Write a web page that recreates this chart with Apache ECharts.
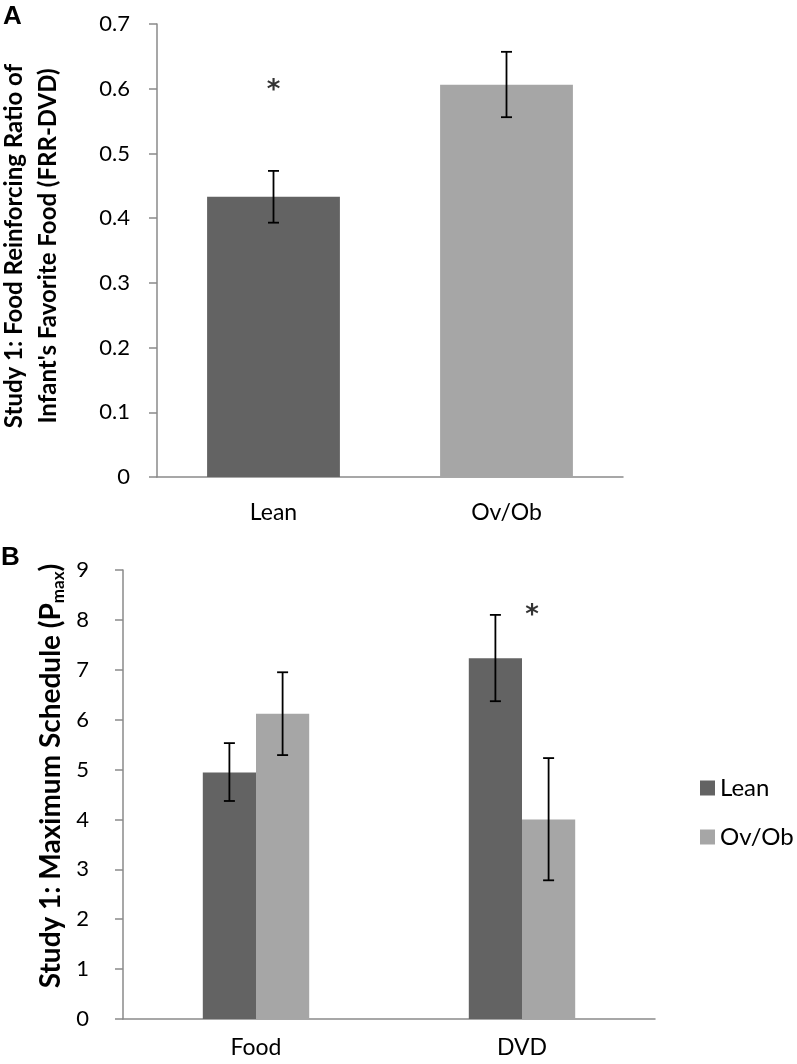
<!DOCTYPE html>
<html><head><meta charset="utf-8">
<script src="https://cdn.jsdelivr.net/npm/echarts@6/dist/echarts.min.js"></script>
<style>html,body{margin:0;padding:0;background:#fff}#c{width:797px;height:1064px}</style>
</head><body><div id="c"></div>
<script>
// Panel A data
const catsA = ['Lean', 'Ov/Ob'];
const meanA = [0.433, 0.606];
const errLoA = [0.393, 0.556];
const errHiA = [0.473, 0.657];
const starA = [['Lean', 0.606]];
const ticksA = [0, 0.1, 0.2, 0.3, 0.4, 0.5, 0.6, 0.7];

// Panel B data
const catsB = ['Food', 'DVD'];
const seriesNames = ['Lean', 'Ov/Ob'];
const leanB = [4.94, 7.23];
const leanLoB = [4.37, 6.37];
const leanHiB = [5.53, 8.10];
const obB = [6.12, 4.00];
const obLoB = [5.29, 2.78];
const obHiB = [6.95, 5.23];
const starB = [['DVD', 8.2]];

const DARK = '#636363', LIGHT = '#a6a6a6', AX = '#8a8a8a';
const FONT = 'Lato';

function errItem(offsetFrac) {
  return function (params, api) {
    const idx = api.value(0);
    const band = api.size([1, 0])[0];
    const lo = api.coord([idx, api.value(1)]);
    const hi = api.coord([idx, api.value(2)]);
    const x = lo[0] + offsetFrac * band;
    const cap = 5.5;
    const st = { stroke: '#000', lineWidth: 1.8 };
    return { type: 'group', children: [
      { type: 'line', shape: { x1: x, y1: lo[1], x2: x, y2: hi[1] }, style: st },
      { type: 'line', shape: { x1: x - cap, y1: lo[1], x2: x + cap, y2: lo[1] }, style: st },
      { type: 'line', shape: { x1: x - cap, y1: hi[1], x2: x + cap, y2: hi[1] }, style: st }
    ]};
  };
}

const yAxisCommon = {
  type: 'value',
  axisLine: { show: true, lineStyle: { color: AX, width: 1.5 } },
  axisTick: { show: true, length: 8, lineStyle: { color: AX, width: 1.5 } },
  splitLine: { show: false },
  axisLabel: { color: '#000', fontFamily: FONT, fontSize: 22 }
};
const xAxisCommon = {
  type: 'category',
  axisLine: { show: true, lineStyle: { color: AX, width: 1.5 } },
  axisTick: { show: false },
  axisLabel: { color: '#000', fontFamily: FONT, fontSize: 23 }
};

const option = {
  animation: false,
  backgroundColor: '#fff',
  grid: [
    { left: 157, top: 24, width: 466, height: 453 },
    { left: 123, top: 570, width: 532, height: 449 }
  ],
  xAxis: [
    Object.assign({}, xAxisCommon, { gridIndex: 0, data: catsA, axisLabel: Object.assign({}, xAxisCommon.axisLabel, { margin: 24 }) }),
    Object.assign({}, xAxisCommon, { gridIndex: 1, data: catsB, axisLabel: Object.assign({}, xAxisCommon.axisLabel, { margin: 17 }) })
  ],
  yAxis: [
    Object.assign({}, yAxisCommon, { gridIndex: 0, min: ticksA[0], max: ticksA[ticksA.length - 1], interval: 0.1,
      axisLabel: Object.assign({}, yAxisCommon.axisLabel, { margin: 27 }) }),
    Object.assign({}, yAxisCommon, { gridIndex: 1, min: 0, max: 9, interval: 1,
      axisLabel: Object.assign({}, yAxisCommon.axisLabel, { margin: 34 }) })
  ],
  legend: {
    data: seriesNames,
    orient: 'vertical',
    left: 695, top: 771,
    itemWidth: 15, itemHeight: 15, itemGap: 25,
    icon: 'rect',
    textStyle: { fontFamily: FONT, fontSize: 24, color: '#000', lineHeight: 24 }
  },
  graphic: [
    { type: 'text', left: 3, top: 4, style: { text: 'A', font: 'bold 26px "Liberation Sans"', fill: '#000' } },
    { type: 'text', left: 1, top: 545, style: { text: 'B', font: 'bold 26px "Liberation Sans"', fill: '#000' } },
    { type: 'text', x: 31, y: 246, rotation: Math.PI / 2,
      style: { text: 'Study 1: Food Reinforcing Ratio of\nInfant\'s Favorite Food (FRR-DVD)',
        fontFamily: FONT, fontWeight: 'bold', fontSize: 24, lineHeight: 34, fill: '#000',
        align: 'center', verticalAlign: 'middle' } },
    { type: 'text', x: 51, y: 776, rotation: Math.PI / 2,
      style: { text: '{a|Study 1: Maximum Schedule (P}{s|max}{a|)}',
        align: 'center', verticalAlign: 'middle',
        rich: {
          a: { fontFamily: FONT, fontWeight: 'bold', fontSize: 28, lineHeight: 32, color: '#000' },
          s: { fontFamily: FONT, fontWeight: 'bold', fontSize: 17, lineHeight: 32, color: '#000', verticalAlign: 'bottom', padding: [13, 0, 0, 0] }
        } } }
  ],
  series: [
    { name: 'FRR', type: 'bar', xAxisIndex: 0, yAxisIndex: 0, barCategoryGap: '43%',
      data: meanA.map((v, i) => ({ value: v, itemStyle: { color: i === 0 ? DARK : LIGHT } })) },
    { name: 'errA', type: 'custom', xAxisIndex: 0, yAxisIndex: 0, renderItem: errItem(0), z: 5,
      data: catsA.map((c, i) => [i, errLoA[i], errHiA[i]]) },
    { name: 'starA', type: 'scatter', xAxisIndex: 0, yAxisIndex: 0, symbolSize: 0, data: starA,
      label: { show: true, position: 'inside', formatter: '*', fontFamily: 'DejaVu Sans', fontWeight: 'bold', fontSize: 26, color: '#000', offset: [0, 6] } },

    { name: seriesNames[0], type: 'bar', xAxisIndex: 1, yAxisIndex: 1, barCategoryGap: '60%', barGap: '0%',
      itemStyle: { color: DARK }, data: leanB },
    { name: seriesNames[1], type: 'bar', xAxisIndex: 1, yAxisIndex: 1, barCategoryGap: '60%', barGap: '0%',
      itemStyle: { color: LIGHT }, data: obB },
    { name: 'errLean', type: 'custom', xAxisIndex: 1, yAxisIndex: 1, renderItem: errItem(-0.1), z: 5,
      data: catsB.map((c, i) => [i, leanLoB[i], leanHiB[i]]) },
    { name: 'errOb', type: 'custom', xAxisIndex: 1, yAxisIndex: 1, renderItem: errItem(0.1), z: 5,
      data: catsB.map((c, i) => [i, obLoB[i], obHiB[i]]) },
    { name: 'starB', type: 'scatter', xAxisIndex: 1, yAxisIndex: 1, symbolSize: 0, data: starB,
      label: { show: true, position: 'inside', formatter: '*', fontFamily: 'DejaVu Sans', fontWeight: 'bold', fontSize: 26, color: '#000', offset: [10, 6] } }
  ]
};
echarts.init(document.getElementById('c'), null, { renderer: 'canvas' }).setOption(option);
</script></body></html>
